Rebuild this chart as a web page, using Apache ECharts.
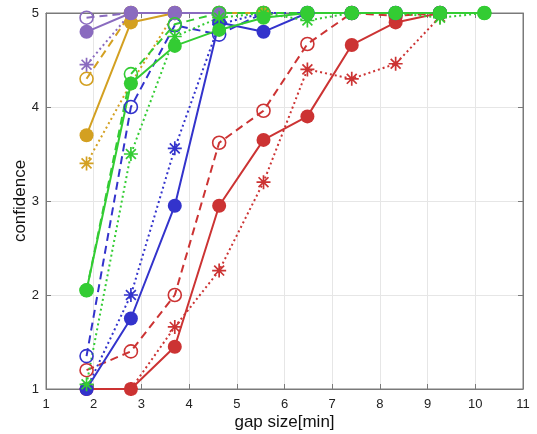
<!DOCTYPE html>
<html><head><meta charset="utf-8">
<script src="https://cdn.jsdelivr.net/npm/echarts@6/dist/echarts.min.js"></script>
<style>html,body{margin:0;padding:0;background:#fff}#c{width:537px;height:434px}</style>
</head><body><div id="c"></div>
<script>
const gapSizes = [1.85, 2.78, 3.70, 4.63, 5.56, 6.48, 7.41, 8.33, 9.26, 10.19];
const xTicks = [1,2,3,4,5,6,7,8,9,10,11];
const yTicks = [1,2,3,4,5];

const purpleSolid  = [4.8, 5, 5, 5];
const purpleDashed = [4.95, 5, 5, 5];
const purpleDotted = [4.45, 5, 5, 5];
const goldSolid    = [3.7, 4.9, 5, 5, 5];
const goldDashed   = [4.3, 5, 5, 5, 5];
const goldDotted   = [3.4, 4.25, 5, 5, 5];
const greenSolid   = [2.05, 4.25, 4.65, 4.82, 4.95, 5, 5, 5, 5, 5];
const greenDashed  = [2.05, 4.35, 4.88, 5, 5, 5, 5, 5, 5, 5];
const greenDotted  = [1.05, 3.5, 4.75, 4.95, 5, 4.92, 5, 5, 4.95, 5];
const blueSolid    = [1.0, 1.75, 2.95, 4.9, 4.8, 5, 5, 5, 5];
const blueDashed   = [1.35, 4.0, 4.87, 4.77, 5, 5, 5, 5, 5];
const blueDotted   = [1.0, 2.0, 3.56, 4.88, 5, 5, 5, 5, 5];
const redSolid     = [1.0, 1.0, 1.45, 2.95, 3.65, 3.9, 4.66, 4.9, 5];
const redDashed    = [1.2, 1.4, 2.0, 3.62, 3.96, 4.67, 5, 4.97, 5];
const redDotted    = [1.0, 1.0, 1.66, 2.26, 3.2, 4.4, 4.3, 4.46, 4.96];

const colors = {purple:'#8a6bbf', gold:'#d3a021', green:'#33cc33', blue:'#3333cc', red:'#cc3333'};
const ASTER = 'path://M0,5L10,5M5,0L5,10M1.46,1.46L8.54,8.54M1.46,8.54L8.54,1.46';

function mk(vals, color, style) {
  const data = vals.map((v,i)=>[gapSizes[i], v]);
  const s = {type:'line', data, animation:false, silent:true,
    lineStyle:{color, width:2}, z:2};
  if (style==='solid') {
    s.symbol='circle'; s.symbolSize=14; s.itemStyle={color, borderWidth:0};
  } else if (style==='dashed') {
    s.lineStyle.type=[8,5]; s.symbol='circle'; s.symbolSize=13;
    s.itemStyle={color:'rgba(0,0,0,0)', borderColor:color, borderWidth:1.6};
  } else {
    s.lineStyle.type=[2,3]; s.symbol=ASTER; s.symbolSize=14;
    s.itemStyle={color:color, borderColor:color, borderWidth:1.7};
  }
  s.showAllSymbol = true;
  return s;
}

const series = [
  mk(redSolid, colors.red, 'solid'), mk(redDashed, colors.red, 'dashed'), mk(redDotted, colors.red, 'dotted'),
  mk(blueSolid, colors.blue, 'solid'), mk(blueDashed, colors.blue, 'dashed'), mk(blueDotted, colors.blue, 'dotted'),
  mk(goldSolid, colors.gold, 'solid'), mk(goldDashed, colors.gold, 'dashed'), mk(goldDotted, colors.gold, 'dotted'),
  mk(purpleSolid, colors.purple, 'solid'), mk(purpleDashed, colors.purple, 'dashed'), mk(purpleDotted, colors.purple, 'dotted'),
  mk(greenDashed, colors.green, 'dashed'), mk(greenDotted, colors.green, 'dotted'), mk(greenSolid, colors.green, 'solid')
];

const font = 'Liberation Sans, Arial, sans-serif';
const axisLine = {show:true, lineStyle:{color:'#7a7a7a', width:1}};
const option = {
  backgroundColor:'#fff',
  grid:{left:46, right:14, top:13, bottom:45, show:true, borderColor:'#7a7a7a', borderWidth:1,
    containLabel:false, outerBoundsMode:'none'},
  xAxis:[{type:'value', min:xTicks[0], max:xTicks[xTicks.length-1], interval:1, position:'bottom',
    name:'gap size[min]', nameLocation:'middle', nameGap:25, nameMoveOverlap:false,
    nameTextStyle:{fontFamily:font, fontSize:17, color:'#111'},
    axisLine, axisTick:{show:true, inside:true, length:5, lineStyle:{color:'#7a7a7a'}},
    axisLabel:{fontFamily:font, fontSize:13, color:'#222', margin:9},
    splitLine:{show:true, lineStyle:{color:'#e6e6e6', width:1}}},
   {type:'value', min:1, max:11, interval:1, position:'top', axisLine,
    axisTick:{show:true, inside:true, length:5, lineStyle:{color:'#7a7a7a'}}, axisLabel:{show:false}, splitLine:{show:false}}],
  yAxis:[{type:'value', min:yTicks[0], max:yTicks[yTicks.length-1], interval:1, position:'left',
    name:'confidence', nameLocation:'middle', nameGap:17, nameMoveOverlap:false,
    nameTextStyle:{fontFamily:font, fontSize:17, color:'#111'},
    axisLine, axisTick:{show:true, inside:true, length:5, lineStyle:{color:'#7a7a7a'}},
    axisLabel:{fontFamily:font, fontSize:13, color:'#222', margin:7},
    splitLine:{show:true, lineStyle:{color:'#e6e6e6', width:1}}},
   {type:'value', min:1, max:5, interval:1, position:'right', axisLine,
    axisTick:{show:true, inside:true, length:5, lineStyle:{color:'#7a7a7a'}}, axisLabel:{show:false}, splitLine:{show:false}}],
  series
};
const chart = echarts.init(document.getElementById('c'), null, {renderer:'canvas'});
chart.setOption(option);
</script></body></html>
